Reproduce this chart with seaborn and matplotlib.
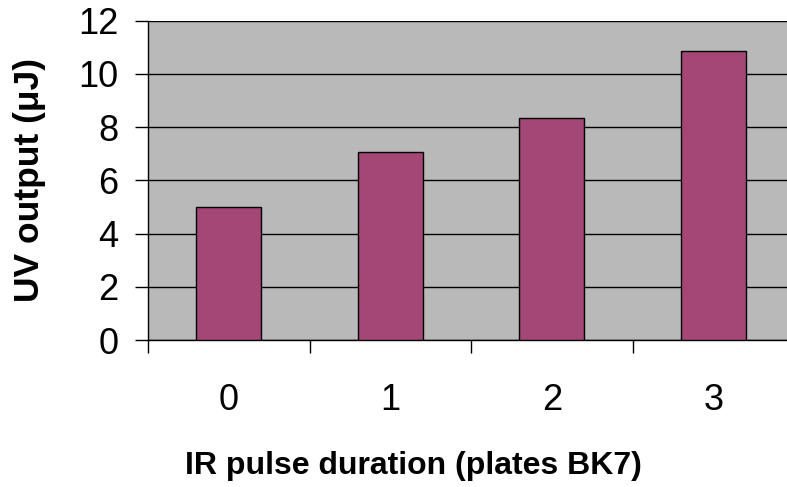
import matplotlib
matplotlib.use("Agg")
import matplotlib.pyplot as plt
from matplotlib.ticker import FixedLocator
import seaborn as sns
import pandas as pd

plates = ["0", "1", "2", "3"]
uv_output = [5.0, 7.05, 8.33, 10.85]
y_ticks = [0, 2, 4, 6, 8, 10, 12]

sns.set_style("white")
plt.rcParams["font.family"] = ["Liberation Sans", "DejaVu Sans"]
plt.rcParams.update({"text.color": "black", "axes.labelcolor": "black",
                     "xtick.color": "black", "ytick.color": "black"})

df = pd.DataFrame({"plates": plates, "uv": uv_output})

fig = plt.figure(figsize=(7.87, 4.87), dpi=100)
W, H = 787, 487
left, right, top, bottom = 148, 794, 20.7, 340
ax = fig.add_axes([left / W, 1 - bottom / H, (right - left) / W, (bottom - top) / H])
ax.set_facecolor("#B9B9B9")

sns.barplot(data=df, x="plates", y="uv", color="#A44777", saturation=1,
            edgecolor="black", linewidth=1.0, width=0.4, ax=ax, zorder=3)

ax.set_xlim(-0.5, 3.5)
ax.set_ylim(0, 12)
ax.set_yticks(y_ticks)
ax.yaxis.grid(True, color="black", linewidth=1.0, zorder=1)
ax.set_axisbelow(True)

for s in ["top", "right"]:
    ax.spines[s].set_visible(False)
for s in ["left", "bottom"]:
    ax.spines[s].set_color("black")
    ax.spines[s].set_linewidth(1.0)

ax.tick_params(axis="y", which="major", direction="out", length=9.4, width=1,
               color="black", labelcolor="black", labelsize=26, pad=12, left=True)
ax.tick_params(axis="x", which="major", length=0, labelsize=26, labelcolor="black", pad=31)
ax.xaxis.set_minor_locator(FixedLocator([-0.5, 0.5, 1.5, 2.5, 3.5]))
ax.tick_params(axis="x", which="minor", direction="out", length=9.4, width=1,
               color="black", bottom=True)

ax.set_xlabel("IR pulse duration (plates BK7)", fontsize=23, fontweight="bold", color="black")
ax.set_ylabel("UV output (\u03bcJ)", fontsize=25.5, fontweight="bold", color="black")
ax.xaxis.set_label_coords((413 - left) / (right - left), (bottom - 451) / (bottom - top))
ax.yaxis.set_label_coords((46 - left) / (right - left), (bottom - 180) / (bottom - top))

fig.savefig("out.png", dpi=100)
